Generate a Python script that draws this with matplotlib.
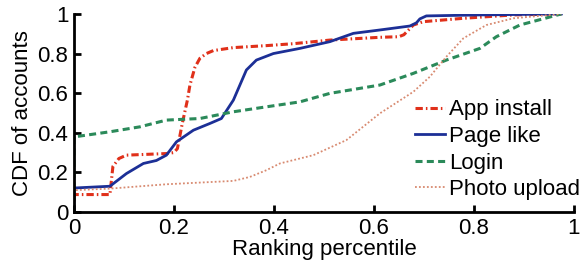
import matplotlib.pyplot as plt

plt.rcParams['font.family'] = ['Liberation Sans', 'DejaVu Sans']
plt.rcParams['font.size'] = 16

# values (ranking percentile, CDF)
app_x = [0, 0, 0.072, 0.078, 0.09, 0.105, 0.185, 0.2, 0.207, 0.217, 0.227, 0.232, 0.242,
         0.252, 0.265, 0.279, 0.319, 0.385, 0.44, 0.512, 0.612, 0.65, 0.66, 0.679, 0.699,
         0.779, 0.879, 0.975]
app_y = [0, 0.088, 0.088, 0.23, 0.27, 0.287, 0.295, 0.30, 0.32, 0.45, 0.565, 0.64, 0.73,
         0.776, 0.80, 0.815, 0.83, 0.84, 0.85, 0.868, 0.882, 0.885, 0.895, 0.944, 0.961,
         0.978, 0.995, 1.0]

like_x = [0, 0, 0.072, 0.105, 0.139, 0.165, 0.185, 0.205, 0.239, 0.272, 0.295, 0.319,
          0.345, 0.365, 0.399, 0.452, 0.512, 0.559, 0.612, 0.672, 0.685, 0.692, 0.705,
          0.812, 0.975]
like_y = [0, 0.121, 0.13, 0.194, 0.245, 0.26, 0.287, 0.354, 0.413, 0.447, 0.472, 0.565,
          0.717, 0.767, 0.80, 0.826, 0.86, 0.902, 0.919, 0.939, 0.955, 0.975, 0.99,
          0.995, 1.0]

login_x = [0, 0, 0.072, 0.132, 0.185, 0.252, 0.319, 0.385, 0.452, 0.512, 0.612, 0.679,
           0.745, 0.812, 0.845, 0.892, 0.975]
login_y = [0, 0.379, 0.405, 0.43, 0.464, 0.472, 0.506, 0.531, 0.556, 0.599, 0.641, 0.70,
           0.767, 0.826, 0.885, 0.944, 1.0]

photo_x = [0, 0, 0.072, 0.185, 0.319, 0.352, 0.385, 0.412, 0.479, 0.545, 0.612, 0.679,
           0.712, 0.745, 0.779, 0.825, 0.879, 0.975]
photo_y = [0, 0.11, 0.118, 0.14, 0.157, 0.177, 0.211, 0.245, 0.287, 0.363, 0.498, 0.607,
           0.683, 0.784, 0.877, 0.944, 0.978, 1.0]

ticks = [0, 0.2, 0.4, 0.6, 0.8, 1]
tick_labels = ['0', '0.2', '0.4', '0.6', '0.8', '1']

fig = plt.figure(figsize=(5.82, 2.68), dpi=100)
ax = fig.add_axes([0.127, 0.209, 0.859, 0.739])

ax.plot(app_x, app_y, color='#e0301a', lw=2.2, ls=(0, (2.4, 1, 0.5, 1)), label='App install')
ax.plot(like_x, like_y, color='#1c2f96', lw=2.0, ls='-', label='Page like')
ax.plot(login_x, login_y, color='#2b8a5a', lw=2.2, ls=(0, (2.3, 1.4)), label='Login')
ax.plot(photo_x, photo_y, color='#d88a70', lw=1.3, ls=(0, (1, 1.2)), label='Photo upload')

ax.set_xlim(0, 1)
ax.set_ylim(0, 1)
ax.set_xticks(ticks)
ax.set_xticklabels(tick_labels)
ax.set_yticks(ticks)
ax.set_yticklabels(tick_labels)
ax.spines['top'].set_visible(False)
ax.spines['right'].set_visible(False)
ax.spines['left'].set_linewidth(2)
ax.spines['bottom'].set_linewidth(2)
ax.tick_params(direction='in', length=5, width=2, pad=4)

ax.set_xlabel('Ranking percentile', labelpad=0)
ax.set_ylabel('CDF of accounts', labelpad=3)

ax.legend(loc='lower right', frameon=False, handlelength=1.35, handletextpad=0.18,
          labelspacing=0.25, borderpad=0, borderaxespad=0, bbox_to_anchor=(1.012, 0.06))

fig.savefig('out.png', dpi=100)
